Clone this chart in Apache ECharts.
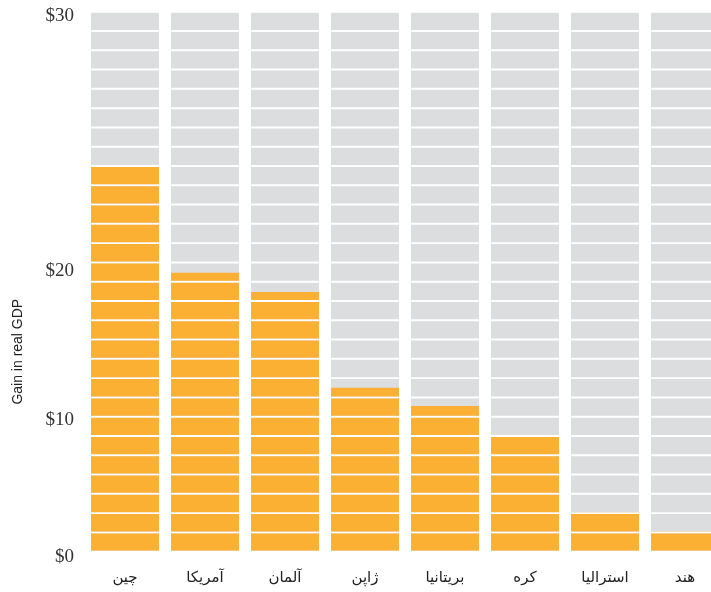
<!DOCTYPE html>
<html>
<head>
<meta charset="utf-8">
<script src="https://cdn.jsdelivr.net/npm/echarts@6/dist/echarts.min.js"></script>
<style>html,body{margin:0;padding:0;background:#fff}#c{width:711px;height:592px}</style>
</head>
<body>
<div id="c"></div>
<script>
// Categories (countries, Persian)
var categories = ['چین', 'آمریکا', 'آلمان', 'ژاپن', 'بریتانیا', 'کره', 'استرالیا', 'هند'];
// Gain in real GDP, measured in segment units (28 segments span the full column)
var gainValues = [20, 14.47, 13.46, 8.48, 7.53, 6, 2, 1];
// Full background column height (segments) for each category
var backgroundValues = [28, 28, 28, 28, 28, 28, 28, 28];
// Y tick labels and where they sit on the segment scale
var tickLabels = ['$0', '$10', '$20', '$30'];
var tickPositions = [0, 6.8, 14.58, 27.85];
var segmentCount = 28;

var chart = echarts.init(document.getElementById('c'), null, {renderer: 'canvas'});
var segH = 17.3;
chart.setOption({
  animation: false,
  grid: {left: 85, width: 640, top: 12.7, height: 538, outerBoundsMode: 'none', containLabel: false},
  xAxis: {
    type: 'category',
    data: categories,
    axisLine: {show: false},
    axisTick: {show: false},
    axisLabel: {
      margin: 20,
      fontSize: 15,
      fontFamily: 'DejaVu Sans',
      color: '#222'
    }
  },
  yAxis: {
    type: 'value',
    min: 0,
    max: segmentCount,
    splitLine: {show: false},
    axisLine: {show: false},
    axisTick: {show: false},
    name: 'Gain in real GDP',
    nameLocation: 'middle',
    nameGap: 60,
    nameTextStyle: {
      fontFamily: 'Liberation Sans',
      fontSize: 14,
      color: '#222',
      padding: [0, 140, 0, 0]
    },
    axisLabel: {
      customValues: tickPositions,
      margin: 11,
      fontFamily: 'Liberation Serif',
      fontSize: 19,
      color: '#333',
      formatter: function (v) {
        var i = tickPositions.indexOf(v);
        var t = i >= 0 ? tickLabels[i] : '';
        return i === 0 ? '{lo|' + t + '}' : t;
      },
      rich: {
        lo: {fontFamily: 'Liberation Serif', fontSize: 19, color: '#333', padding: [12, 0, 0, 0]}
      }
    }
  },
  series: [
    {
      type: 'pictorialBar',
      data: backgroundValues,
      barWidth: 68,
      symbol: 'rect',
      symbolSize: ['100%', segH],
      symbolRepeat: segmentCount,
      symbolBoundingData: segmentCount,
      itemStyle: {color: '#DCDDDF'},
      z: 1,
      silent: true
    },
    {
      type: 'pictorialBar',
      data: gainValues,
      barWidth: 68,
      symbol: 'rect',
      symbolSize: ['100%', segH],
      symbolRepeat: segmentCount,
      symbolBoundingData: segmentCount,
      symbolClip: true,
      itemStyle: {color: '#FBB034'},
      z: 2,
      silent: true
    }
  ]
});
</script>
</body>
</html>
